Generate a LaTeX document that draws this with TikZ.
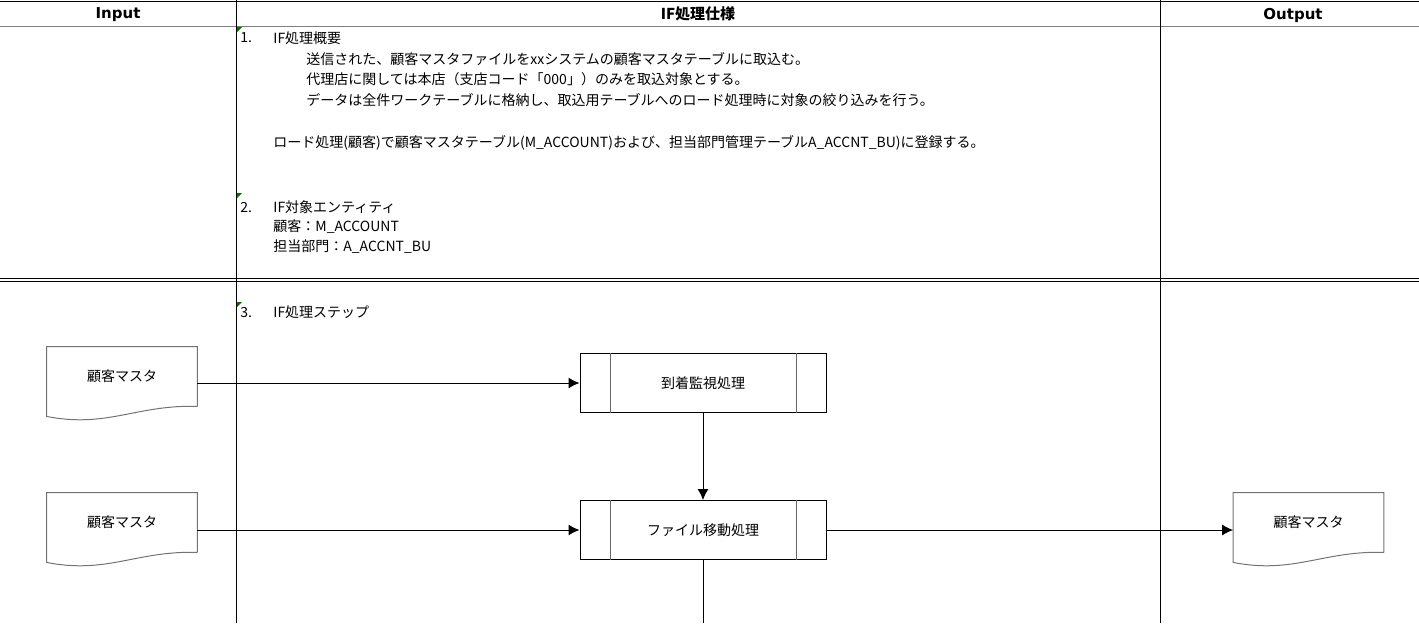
\documentclass[tikz,border=0pt]{standalone}
\usepackage{fontspec}
\setmainfont{Noto Sans CJK JP}
\newfontfamily\hdfont{DejaVu Sans}
\usetikzlibrary{arrows.meta,calc}

\begin{document}
\begin{tikzpicture}[x=0.5pt,y=-0.5pt,>={Latex[length=5.5pt,width=5.5pt]},
  font=\fontsize{7pt}{8.4pt}\selectfont,
  txt/.style={anchor=west,inner sep=0pt},
  hd/.style={inner sep=0pt,font=\bfseries\fontsize{7.5pt}{9pt}\selectfont},
  docbox/.style={minimum width=75pt,minimum height=29pt,inner sep=0pt},
  procbox/.style={draw,line width=0.5pt,minimum width=123pt,minimum height=29.5pt,inner sep=0pt},
  flow/.style={->,line width=0.5pt}]
  \useasboundingbox (0,0) rectangle (1419,623);
  % sheet grid
  \draw[line width=0.5pt] (0,1) -- (1419,1);
  \draw[gray,line width=0.5pt] (0,26) -- (1419,26);
  \draw[line width=0.5pt] (236,0) -- (236,623);
  \draw[line width=0.5pt] (1160,0) -- (1160,623);
  \draw[line width=0.5pt] (0,278) -- (1419,278) (0,281.5) -- (1419,281.5);
  \foreach \y in {27,193,302}
    \fill[green!45!black] (237,\y) -- ++(5,0) -- ++(-5,5) -- cycle;
  % headers
  \node[hd,font=\hdfont\bfseries\fontsize{7.5pt}{9pt}\selectfont] (hin) at (118,15) {Input};
  \node[hd] (hif) at (698,14) {IF処理仕様};
  \node[hd,font=\hdfont\bfseries\fontsize{7.5pt}{9pt}\selectfont] (hout) at (1293,15) {Output};
  % spec text
  \node[txt] (s1n) at (240,38) {1.};
  \node[txt] (s1) at (273,38) {IF処理概要};
  \node[txt] (s1a) at (306,59) {送信された、顧客マスタファイルをxxシステムの顧客マスタテーブルに取込む。};
  \node[txt] (s1b) at (306,79) {代理店に関しては本店（支店コード「000」）のみを取込対象とする。};
  \node[txt] (s1c) at (306,100) {データは全件ワークテーブルに格納し、取込用テーブルへのロード処理時に対象の絞り込みを行う。};
  \node[txt] (s1d) at (273,143) {ロード処理(顧客)で顧客マスタテーブル(M\_ACCOUNT)および、担当部門管理テーブルA\_ACCNT\_BU)に登録する。};
  \node[txt] (s2n) at (240,207) {2.};
  \node[txt] (s2) at (273,207) {IF対象エンティティ};
  \node[txt] (s2a) at (273,227) {顧客：M\_ACCOUNT};
  \node[txt] (s2b) at (273,247) {担当部門：A\_ACCNT\_BU};
  \node[txt] (s3n) at (240,312) {3.};
  \node[txt] (s3) at (273,312) {IF処理ステップ};
  % flow
  \node[docbox] (src1) at (122,376) {顧客マスタ};
  \node[docbox] (src2) at (122,522) {顧客マスタ};
  \node[docbox] (dst) at (1308.5,522) {顧客マスタ};
  \foreach \d in {src1,src2,dst}
    \draw[black!55,line width=0.5pt] ($(\d.south east)+(0,1)$) -- (\d.north east) -- (\d.north west)
      -- ($(\d.south west)+(0,11)$) .. controls ($(\d.south)+(-15,23)$) and ($(\d.south)+(15,-1)$) .. ($(\d.south east)+(0,1)$);
  \node[procbox] (arr) at (703,383) {到着監視処理};
  \node[procbox] (mov) at (703,530) {ファイル移動処理};
  \foreach \p in {arr,mov} {
    \draw[black!60,line width=0.5pt] ($(\p.north west)+(31,0)$) -- ($(\p.south west)+(31,0)$);
    \draw[black!60,line width=0.5pt] ($(\p.north east)+(-30,0)$) -- ($(\p.south east)+(-30,0)$);
  }
  \coordinate (cut) at (703,623);
  \draw[flow] (src1.east |- arr.west) -- (arr.west);
  \draw[flow] (arr) -- (mov);
  \draw[flow] (src2.east |- mov.west) -- (mov.west);
  \draw[flow] (mov.east) -- (dst.west |- mov.east);
  \draw[line width=0.5pt] (mov) -- (cut);
\end{tikzpicture}
\end{document}
